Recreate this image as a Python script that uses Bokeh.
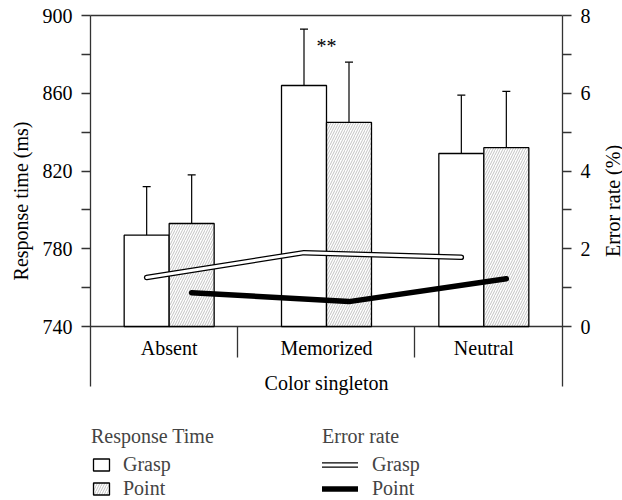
import math
from bokeh.plotting import figure
from bokeh.models import (Range1d, LinearAxis, FixedTicker, Span, Whisker, TeeHead,
                          ColumnDataSource, Legend, LegendItem)
from bokeh.core.properties import value
from bokeh.embed import file_html
from bokeh.resources import INLINE

# ---------------- data ----------------
categories = ["Absent", "Memorized", "Neutral"]
rt_grasp = [787, 864, 829]
rt_grasp_err = [25, 29, 30]
rt_point = [793, 845, 832]
rt_point_err = [25, 31, 29]
err_grasp = [1.26, 1.90, 1.78]
err_point = [0.87, 0.64, 1.23]
rt_ticks = [740, 780, 820, 860, 900]
rt_minor = [760, 800, 840, 880]
err_ticks = [0, 2, 4, 6, 8]
err_minor = [1, 3, 5, 7]
sig_text = "**"
sig_value = 884.5
x_title = "Color singleton"
y_title = "Response time (ms)"
y2_title = "Error rate (%)"
legend1_title = "Response Time"
legend2_title = "Error rate"
series_names = ["Grasp", "Point"]

# ---------------- geometry (pixels of the 622x500 canvas) ----------------
W, H = 622, 500
PL, PR, PT, PB = 90, 562, 15, 326      # plot box: left, right, top, baseline
X_PX = (PR - PL) / 3.0                 # px per category
RT_PX = (PB - PT) / (rt_ticks[-1] - rt_ticks[0])
ERR_PX = (PB - PT) / (err_ticks[-1] - err_ticks[0])
X0 = 0.5                               # data x at PL


def xd(px):
    return X0 + (px - PL) / X_PX


def yd(py):
    return rt_ticks[-1] - (py - PT) / RT_PX


def ed(py):
    return err_ticks[-1] - (py - PT) / ERR_PX


AXIS_END = 386                         # where the vertical axes stop

FONT = "Liberation Serif"
FS = "20px"
AX = "#333333"

idx = [i + 1 for i in range(len(categories))]
BW = 0.286
OFF = 0.143
xg = [i - OFF for i in idx]
xp = [i + OFF for i in idx]
BASE = rt_ticks[0]

p = figure(width=W, height=H, output_backend="svg", toolbar_location=None,
           x_range=Range1d(xd(0), xd(W)), y_range=Range1d(yd(H), yd(0)),
           x_axis_location=None, y_axis_location=None, min_border=0)
p.extra_y_ranges = {"err": Range1d(ed(H), ed(0))}
p.grid.visible = False
p.outline_line_color = None
p.background_fill_color = "white"

la = LinearAxis(ticker=FixedTicker(ticks=rt_ticks, minor_ticks=rt_minor),
                bounds=(yd(AXIS_END), rt_ticks[-1]), fixed_location=xd(PL))
ra = LinearAxis(y_range_name="err", ticker=FixedTicker(ticks=err_ticks, minor_ticks=err_minor),
                bounds=(ed(AXIS_END), err_ticks[-1]), fixed_location=xd(PR))
for ax in [la, ra]:
    ax.major_tick_out = 9
    ax.major_tick_in = 0
    ax.minor_tick_out = 9
    ax.minor_tick_in = 0
    ax.axis_line_width = 1.3
    ax.major_tick_line_width = 1.3
    ax.minor_tick_line_width = 1.3
    ax.axis_line_color = AX
    ax.major_tick_line_color = AX
    ax.minor_tick_line_color = AX
    ax.major_label_text_font = FONT
    ax.major_label_text_font_size = FS
    ax.major_label_text_color = "black"
    ax.major_label_standoff = 9
p.add_layout(la, "left")
p.add_layout(ra, "right")

# top border and baseline
p.segment(x0=[xd(PL)] * 2, y0=[rt_ticks[-1], BASE], x1=[xd(PR)] * 2, y1=[rt_ticks[-1], BASE],
          line_color=AX, line_width=1.3)

# category separators
SEP = [xd(237), xd(414)]
p.segment(x0=SEP, y0=[BASE] * 2, x1=SEP, y1=[yd(PB + 31)] * 2,
          line_color=AX, line_width=1.3)

# bars
BAR_G = dict(fill_color="white", line_color="black", line_width=1.3)
BAR_P = dict(fill_color="white", line_color="black", line_width=1.3, hatch_pattern="/",
             hatch_color="#999999", hatch_scale=5, hatch_weight=0.6)
bars_g = p.vbar(x=xg, top=rt_grasp, bottom=BASE, width=BW, **BAR_G)
bars_p = p.vbar(x=xp, top=rt_point, bottom=BASE, width=BW, **BAR_P)

# error bars
for xs, m, e in [(xg, rt_grasp, rt_grasp_err), (xp, rt_point, rt_point_err)]:
    src = ColumnDataSource(dict(x=xs, lower=m, upper=[a + b for a, b in zip(m, e)]))
    p.add_layout(Whisker(source=src, base="x", lower="lower", upper="upper",
                         dimension="height", line_color="black", line_width=1.2,
                         upper_head=TeeHead(size=8, line_color="black", line_width=1.2),
                         lower_head=None))

# error-rate lines
LINE_OUT = dict(line_color="black", line_width=5.5, line_cap="round", line_join="round")
LINE_IN = dict(line_color="white", line_width=3, line_cap="round", line_join="round")
lg_out = p.line(xg, err_grasp, y_range_name="err", **LINE_OUT)
lg_in = p.line(xg, err_grasp, y_range_name="err", **LINE_IN)
lp = p.line(xp, err_point, y_range_name="err", **LINE_OUT)

TXT = dict(text_font=value(FONT), text_font_size=value(FS), text_color="black",
           text_align="center", text_baseline="middle")

# significance
p.text(x=[2], y=[sig_value], text=[sig_text], **TXT)

# category labels and axis titles
p.text(x=idx, y=[yd(347)] * 3, text=categories, **TXT)
p.text(x=[2], y=[yd(382)], text=[x_title], **TXT)
y_mid = yd((PT + AXIS_END) / 2)
p.text(x=[xd(20)], y=[y_mid], text=[y_title], angle=math.pi / 2, **TXT)
p.text(x=[xd(612)], y=[y_mid], text=[y2_title], angle=math.pi / 2, **TXT)


def style_legend(lg):
    lg.title_text_font = FONT
    lg.title_text_font_size = FS
    lg.title_text_font_style = "normal"
    lg.label_text_font = FONT
    lg.label_text_font_size = FS
    lg.padding = 0
    lg.margin = 0
    lg.border_line_color = None
    lg.background_fill_alpha = 0
    lg.label_height = 20
    lg.spacing = 1
    lg.title_standoff = 5


leg1 = Legend(items=[LegendItem(label=series_names[0], renderers=[bars_g]),
                     LegendItem(label=series_names[1], renderers=[bars_p])],
              title=legend1_title, location=(91, 0), glyph_width=20, glyph_height=15,
              label_standoff=12)
leg2 = Legend(items=[LegendItem(label=series_names[0], renderers=[lg_out, lg_in]),
                     LegendItem(label=series_names[1], renderers=[lp])],
              title=legend2_title, location=(322, 0), glyph_width=36, glyph_height=15,
              label_standoff=14)
for lg in [leg1, leg2]:
    style_legend(lg)
    p.add_layout(lg)

open("out.html", "w").write(file_html(p, INLINE))
